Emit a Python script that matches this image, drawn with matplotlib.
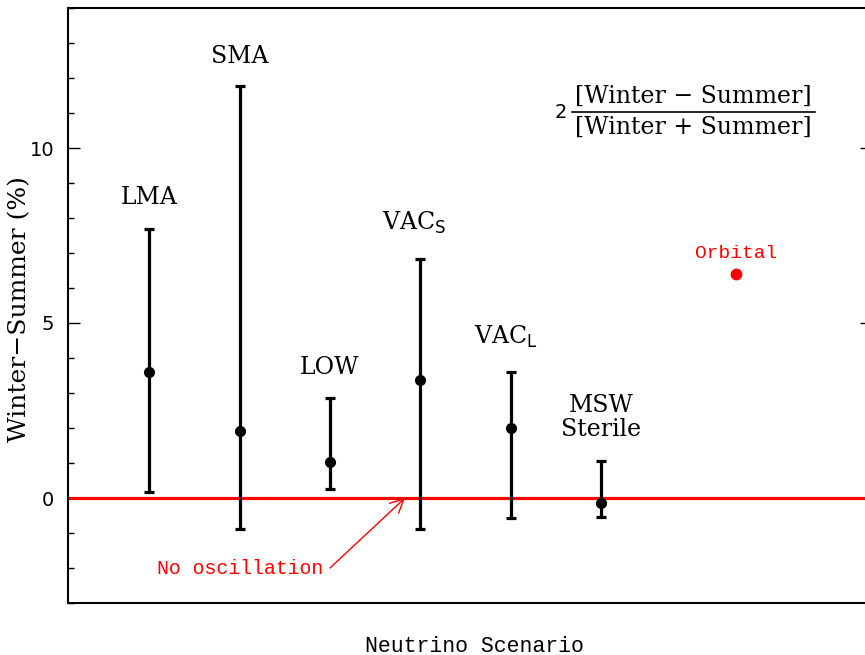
import numpy as np
import matplotlib
matplotlib.use("Agg")
import matplotlib.pyplot as plt
from matplotlib.lines import Line2D

# scenario data (winter-summer asymmetry, %)
scenarios = ["LMA", "SMA", "LOW", r"VAC$_\mathrm{S}$", r"VAC$_\mathrm{L}$", "MSW\nSterile"]
xpos = [1, 2, 3, 4, 5, 6]
center = [3.59, 1.91, 1.03, 3.36, 1.99, -0.14]
upper = [7.69, 11.77, 2.85, 6.84, 3.59, 1.05]
lower = [0.17, -0.88, 0.26, -0.88, -0.57, -0.54]
label_y = [8.58, 12.62, 3.73, 7.86, 4.59, 2.31]
label_dx = [0, 0, 0, -0.07, -0.05, 0]

orbital_x = 7.5
orbital_y = 6.41

serif = "DejaVu Serif"
mono = "Liberation Mono"

fig = plt.figure(figsize=(8.65, 6.55), dpi=100)
ax = fig.add_axes([68/865, 52/655, 804/865, 595/655])

yerr = [np.array(center) - np.array(lower), np.array(upper) - np.array(center)]
ax.errorbar(xpos, center, yerr=yerr, fmt="o", color="black", ms=7,
            elinewidth=2.3, capsize=3.5, capthick=2.3, zorder=3)

ax.axhline(0, color="red", lw=2.3, zorder=2)
ax.plot([orbital_x], [orbital_y], "o", color="red", ms=7.5, zorder=3)
ax.text(orbital_x, orbital_y + 0.57, "Orbital", color="red", fontsize=14,
        family=mono, ha="center", va="center")

for x, y, dx, s in zip(xpos, label_y, label_dx, scenarios):
    ax.text(x + dx, y, s, fontsize=17, family=serif, ha="center", va="center",
            linespacing=1.05)

# no-oscillation annotation
ax.text(2.92, -2.0, "No oscillation", color="red", fontsize=14.3, family=mono,
        ha="right", va="center")
ax.annotate("", xy=(3.83, 0.0), xytext=(3.0, -2.0),
            arrowprops=dict(arrowstyle="->", color="red", lw=1.0,
                            mutation_scale=24, shrinkA=0, shrinkB=0))

# formula
ax.text(0.613, 0.825, "2", transform=ax.transAxes, fontsize=14,
        family="DejaVu Sans", ha="center", va="center")
ax.text(0.778, 0.851, "[Winter \u2212 Summer]", transform=ax.transAxes,
        fontsize=17, family=serif, ha="center", va="center")
ax.text(0.778, 0.799, "[Winter + Summer]", transform=ax.transAxes,
        fontsize=17, family=serif, ha="center", va="center")
ax.add_line(Line2D([0.627, 0.929], [0.825, 0.825], transform=ax.transAxes,
                   color="black", lw=1.2))

ax.set_xlim(0.1, 9.0)
ax.set_ylim(-3, 14)
ax.set_xticks([])
ax.set_yticks([0, 5, 10])
ax.set_yticks(np.arange(-3, 15, 1), minor=True)
ax.tick_params(axis="y", which="major", direction="in", length=8.5, width=1,
               labelsize=14, right=True, pad=10)
ax.tick_params(axis="y", which="minor", direction="in", length=4, width=1,
               right=True)
for sp in ax.spines.values():
    sp.set_linewidth(1.5)

fig.text(20/865, (655 - 309)/655, "Winter\u2212Summer (%)", fontsize=18,
         family=serif, rotation=90, ha="center", va="center")
fig.text(474/865, (655 - 646)/655, "Neutrino Scenario", fontsize=15.5,
         family=mono, ha="center", va="center")

fig.savefig("out.png", dpi=100)
